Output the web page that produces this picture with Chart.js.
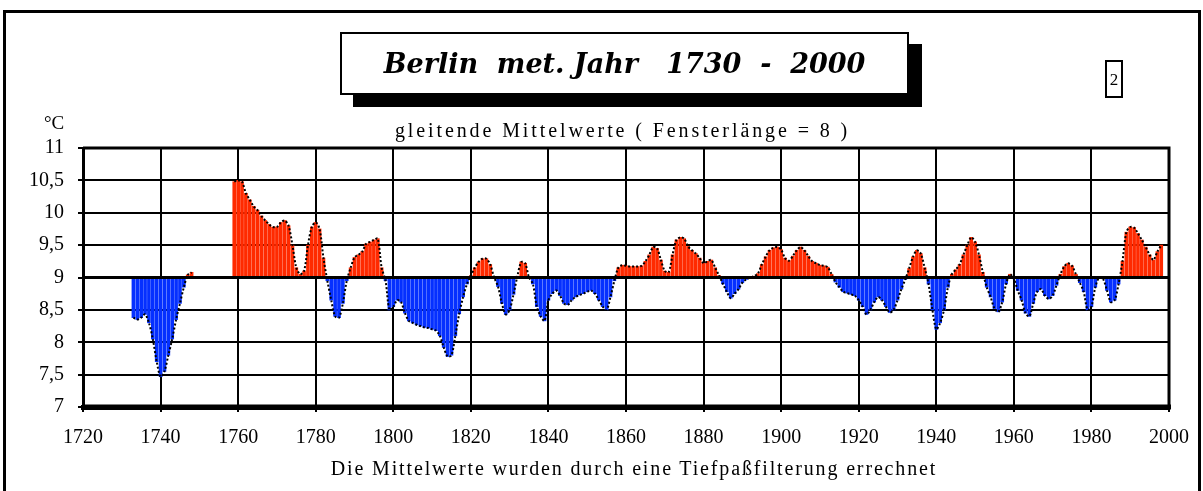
<!DOCTYPE html>
<html>
<head>
<meta charset="utf-8">
<script src="https://cdn.jsdelivr.net/npm/chart.js@4.4.1/dist/chart.umd.min.js"></script>
<style>
  body { margin: 0; background: #fff; }
  #wrap { position: relative; width: 1203px; height: 491px; overflow: hidden; }
  #frame { position: absolute; left: 3px; top: 10px; width: 1192px; height: 500px; border: 3px solid #000; }
  #titleBox {
    position: absolute; left: 340px; top: 32px; width: 565px; height: 59px;
    border: 2px solid #000; background: #fff; box-shadow: 13px 12px 0 #000;
    font: italic bold 27px "DejaVu Serif", serif; line-height: 59px; text-align: center;
    white-space: pre; letter-spacing: 0px;
  }
  #num { position: absolute; left: 1105px; top: 60px; width: 14px; height: 34px;
    border: 2px solid #000; font: 17px "Liberation Serif", serif; line-height: 36px; text-align: center; }
  .txt { position: absolute; font-family: "Liberation Serif", serif; color: #000; white-space: pre; }
  #unit { left: 44px; top: 112px; font-size: 19px; }
  #sub { left: 0; width: 1245px; top: 119px; text-align: center; font-size: 20px; letter-spacing: 2.9px; }
  #foot { left: 0; width: 1268px; top: 457px; text-align: center; font-size: 20px; letter-spacing: 1.85px; }
  canvas { position: absolute; left: 0; top: 0; }
</style>
</head>
<body>
<div id="wrap">
  <canvas id="chart" width="1203" height="491"></canvas>
  <div id="frame"></div>
  <div id="titleBox">Berlin  met. Jahr   1730  -  2000</div>
  <div id="num">2</div>
  <div class="txt" id="unit">°C</div>
  <div class="txt" id="sub">gleitende Mittelwerte ( Fensterlänge = 8 )</div>
  <div class="txt" id="foot">Die Mittelwerte wurden durch eine Tiefpaßfilterung errechnet</div>
</div>
<script>
// gleitende Mittelwerte, one value per year from startYear (null = no data)
const startYear = 1733;
const meanTemp = [
  8.38, 8.35, 8.38, 8.43, 8.30, 8.05, 7.70, 7.47, 7.55, 7.80,   // 1733-1742
  8.05, 8.35, 8.60, 8.85, 9.04, 9.08, null, null, null, null,   // 1743-1752
  null, null, null, null, null, null, 10.48, 10.50, 10.48, 10.30, // 1753-1762
  10.20, 10.10, 10.04, 9.95, 9.88, 9.82, 9.78, 9.78, 9.85, 9.88, // 1763-1772
  9.80, 9.50, 9.15, 9.05, 9.10, 9.50, 9.78, 9.85, 9.75, 9.30,   // 1773-1782
  8.95, 8.65, 8.40, 8.38, 8.60, 8.95, 9.15, 9.31, 9.35, 9.40,   // 1783-1792
  9.52, 9.55, 9.58, 9.60, 9.15, 8.95, 8.50, 8.55, 8.65, 8.62,   // 1793-1802
  8.45, 8.33, 8.30, 8.27, 8.25, 8.23, 8.22, 8.20, 8.18, 8.10,   // 1803-1812
  7.92, 7.78, 7.80, 8.10, 8.44, 8.70, 8.90, 9.03, 9.15, 9.24,   // 1813-1822
  9.29, 9.29, 9.20, 9.00, 8.86, 8.60, 8.43, 8.50, 8.74, 9.02,   // 1823-1832
  9.24, 9.22, 9.00, 8.90, 8.55, 8.40, 8.33, 8.65, 8.75, 8.80,   // 1833-1842
  8.72, 8.60, 8.58, 8.65, 8.70, 8.73, 8.75, 8.78, 8.80, 8.75,   // 1843-1852
  8.65, 8.55, 8.50, 8.70, 8.95, 9.15, 9.19, 9.18, 9.17, 9.17,   // 1853-1862
  9.17, 9.18, 9.25, 9.35, 9.47, 9.45, 9.27, 9.10, 9.08, 9.35,   // 1863-1872
  9.58, 9.62, 9.60, 9.48, 9.42, 9.37, 9.30, 9.22, 9.25, 9.27,   // 1873-1882
  9.15, 9.03, 8.90, 8.78, 8.68, 8.75, 8.82, 8.92, 8.97, 9.00,   // 1883-1892
  9.02, 9.06, 9.20, 9.32, 9.42, 9.46, 9.47, 9.43, 9.30, 9.26,   // 1893-1902
  9.33, 9.42, 9.47, 9.42, 9.33, 9.25, 9.22, 9.19, 9.18, 9.16,   // 1903-1912
  9.05, 8.93, 8.85, 8.78, 8.76, 8.74, 8.72, 8.65, 8.55, 8.43,   // 1913-1922
  8.50, 8.62, 8.70, 8.65, 8.55, 8.46, 8.50, 8.65, 8.82, 8.97,   // 1923-1932
  9.14, 9.32, 9.42, 9.37, 9.15, 8.90, 8.50, 8.20, 8.30, 8.50,   // 1933-1942
  8.85, 9.05, 9.12, 9.20, 9.35, 9.50, 9.62, 9.55, 9.35, 9.08,   // 1943-1952
  8.85, 8.70, 8.52, 8.47, 8.62, 8.90, 9.05, 8.98, 8.80, 8.65,   // 1953-1962
  8.45, 8.40, 8.60, 8.78, 8.82, 8.72, 8.67, 8.72, 8.88, 9.05,   // 1963-1972
  9.17, 9.22, 9.18, 9.05, 8.92, 8.78, 8.50, 8.55, 8.85, 9.00,   // 1973-1982
  8.98, 8.80, 8.62, 8.65, 8.90, 9.25, 9.70, 9.78, 9.77, 9.68,   // 1983-1992
  9.58, 9.47, 9.35, 9.27, 9.40, 9.50                            // 1993-1998
];
const baseTemp = 9;
const yTicks = [7, 7.5, 8, 8.5, 9, 9.5, 10, 10.5, 11];
const xTicks = [1720, 1740, 1760, 1780, 1800, 1820, 1840, 1860, 1880, 1900, 1920, 1940, 1960, 1980, 2000];

const years = meanTemp.map((v, i) => startYear + i);
const barPoints = [];
years.forEach((yr, i) => {
  if (meanTemp[i] !== null) barPoints.push({ x: yr, y: [baseTemp, meanTemp[i]] });
});
const linePoints = years.map((yr, i) => ({ x: yr, y: meanTemp[i] }));

const frameLines = {
  id: "frameLines",
  afterDraw(chart) {
    const { ctx, chartArea: a, scales } = chart;
    ctx.save();
    ctx.strokeStyle = "#000";
    ctx.lineWidth = 3;
    ctx.beginPath();
    ctx.moveTo(a.left, a.top); ctx.lineTo(a.right, a.top); ctx.lineTo(a.right, a.bottom);
    ctx.stroke();
    const y9 = scales.y.getPixelForValue(baseTemp);
    ctx.beginPath();
    ctx.moveTo(a.left, y9); ctx.lineTo(a.right, y9);
    ctx.stroke();
    ctx.lineWidth = 5;
    ctx.beginPath();
    ctx.moveTo(a.left - 1, a.bottom); ctx.lineTo(a.right + 2, a.bottom);
    ctx.stroke();
    ctx.restore();
  }
};

new Chart(document.getElementById("chart"), {
  type: "bar",
  data: {
    datasets: [
      {
        type: "line",
        data: linePoints,
        borderColor: "#000",
        borderWidth: 2,
        borderDash: [2, 2],
        pointRadius: 0,
        tension: 0.3,
        spanGaps: false,
        order: 0
      },
      {
        data: barPoints,
        backgroundColor: barPoints.map(p => p.y[1] >= baseTemp ? "#ff2a00" : "#0530ff"),
        borderWidth: 0,
        barThickness: 3,
        grouped: false,
        order: 1
      }
    ]
  },
  options: {
    responsive: false,
    animation: false,
    layout: { padding: { left: 0, right: 25, top: 148, bottom: 0 } },
    plugins: { legend: { display: false }, tooltip: { enabled: false } },
    scales: {
      x: {
        type: "linear",
        min: 1720,
        max: 2000,
        offset: false,
        z: 1,
        afterBuildTicks: s => { s.ticks = xTicks.map(v => ({ value: v })); },
        afterFit: s => { s.height = 84; },
        ticks: {
          color: "#000",
          padding: 14,
          maxRotation: 0,
          autoSkip: false,
          font: { family: "Liberation Serif", size: 20 },
          callback: v => String(v)
        },
        grid: { color: "#000", lineWidth: 2, tickLength: 5, offset: false },
        border: { color: "#000", width: 5 }
      },
      y: {
        min: 7,
        max: 11,
        z: 1,
        afterBuildTicks: s => { s.ticks = yTicks.map(v => ({ value: v })); },
        afterFit: s => { s.width = 83; },
        ticks: {
          color: "#000",
          padding: 14,
          font: { family: "Liberation Serif", size: 20 },
          callback: v => String(v).replace(".", ",")
        },
        grid: { color: "#000", lineWidth: 2, tickLength: 5 },
        border: { color: "#000", width: 3 }
      }
    }
  },
  plugins: [frameLines]
});
</script>
</body>
</html>
